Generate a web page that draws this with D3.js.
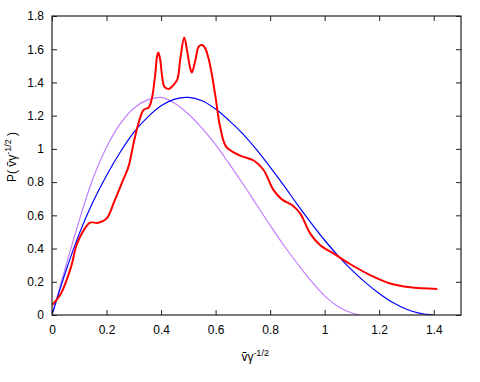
<!DOCTYPE html>
<html>
<head>
<meta charset="utf-8">
<script src="https://cdn.jsdelivr.net/npm/d3@7"></script>
<style>
  body { margin: 0; background: #fff; }
  text { font-family: "Liberation Sans", Arial, sans-serif; fill: #000; }
</style>
</head>
<body>
<div id="chart"></div>
<script>
var width = 480
var height = 382

// tick values
var xTicks = [0, 0.2, 0.4, 0.6, 0.8, 1, 1.2, 1.4]
var yTicks = [0, 0.2, 0.4, 0.6, 0.8, 1, 1.2, 1.4, 1.6, 1.8]

// red curve (measured distribution)
var redX = [0, 0.03, 0.07, 0.09, 0.12, 0.14, 0.17, 0.2, 0.23, 0.26, 0.28, 0.3, 0.32, 0.336, 0.355, 0.367,
  0.379, 0.385, 0.39, 0.397, 0.404, 0.412, 0.428, 0.44, 0.459, 0.47, 0.485, 0.497, 0.507, 0.513,
  0.526, 0.538, 0.55, 0.562, 0.574, 0.585, 0.6, 0.617, 0.64, 0.69, 0.74, 0.776, 0.812, 0.843,
  0.88, 0.91, 0.947, 0.984, 1.032, 1.09, 1.167, 1.24, 1.313, 1.413]
var redY = [0.06, 0.12, 0.29, 0.42, 0.52, 0.556, 0.555, 0.58, 0.69, 0.81, 0.89, 1.04, 1.17, 1.235, 1.25, 1.31,
  1.455, 1.555, 1.58, 1.535, 1.435, 1.375, 1.36, 1.375, 1.415, 1.535, 1.67, 1.575, 1.485, 1.46,
  1.535, 1.615, 1.625, 1.605, 1.545, 1.46, 1.31, 1.13, 1.01, 0.96, 0.93, 0.873, 0.753, 0.696,
  0.662, 0.612, 0.49, 0.42, 0.371, 0.31, 0.24, 0.19, 0.167, 0.157]

// blue curve
var blueX = [0, 0.05, 0.1, 0.15, 0.2, 0.25, 0.3, 0.35, 0.4, 0.45, 0.5, 0.55, 0.6, 0.65, 0.7, 0.75,
  0.8, 0.85, 0.9, 0.95, 1, 1.05, 1.1, 1.15, 1.2, 1.25, 1.3, 1.35, 1.4]
var blueY = [0, 0.26, 0.49, 0.68, 0.84, 0.98, 1.1, 1.19, 1.26, 1.3, 1.31, 1.29, 1.24, 1.17, 1.09, 0.995,
  0.89, 0.78, 0.665, 0.555, 0.45, 0.355, 0.27, 0.195, 0.13, 0.075, 0.035, 0.01, 0]

// purple curve
var purpleX = [0, 0.05, 0.1, 0.15, 0.2, 0.25, 0.3, 0.35, 0.4, 0.45, 0.5, 0.55, 0.6, 0.65, 0.7,
  0.75, 0.8, 0.85, 0.9, 0.95, 1, 1.05, 1.1, 1.13]
var purpleY = [0, 0.29, 0.57, 0.82, 1.01, 1.15, 1.245, 1.295, 1.31, 1.275, 1.21, 1.125, 1.025, 0.91, 0.79,
  0.665, 0.54, 0.42, 0.31, 0.205, 0.115, 0.05, 0.012, 0]

var margin = {top: 16, right: 19, bottom: 67, left: 52}
var w = width - margin.left - margin.right,
    h = height - margin.top - margin.bottom

var svg = d3.select("#chart")
    .append("svg")
    .attr("width", width)
    .attr("height", height)

var g = svg.append("g")
    .attr("transform", "translate(" + margin.left + "," + margin.top + ")")

var x = d3.scaleLinear().domain([0, 1.5]).range([0, w])
var y = d3.scaleLinear().domain([0, 1.8]).range([h, 0])

var line = d3.line()
    .x(function(d) { return x(d[0]); })
    .y(function(d) { return y(d[1]); })
    .curve(d3.curveCatmullRom.alpha(0.5))

function zip(a, b) { return a.map(function(v, i) { return [v, b[i]]; }); }

g.append("defs").append("clipPath")
    .attr("id", "clip")
    .append("rect")
    .attr("width", w)
    .attr("height", h)

var plot = g.append("g").attr("clip-path", "url(#clip)")

plot.append("path")
    .attr("d", line(zip(purpleX, purpleY)))
    .attr("fill", "none")
    .attr("stroke", "#c080ff")
    .attr("stroke-width", 1.2)

plot.append("path")
    .attr("d", line(zip(blueX, blueY)))
    .attr("fill", "none")
    .attr("stroke", "#0000ff")
    .attr("stroke-width", 1.2)

plot.append("path")
    .attr("d", line(zip(redX, redY)))
    .attr("fill", "none")
    .attr("stroke", "#ff0000")
    .attr("stroke-width", 2)

// axes, ticks pointing inward, mirrored on top and right
var xAxis = d3.axisBottom(x).tickValues(xTicks).tickSize(-5).tickPadding(10)
    .tickFormat(function(d) { return d3.format("")(+d.toFixed(1)); })
var yAxis = d3.axisLeft(y).tickValues(yTicks).tickSize(-5).tickPadding(8)
    .tickFormat(function(d) { return d3.format("")(+d.toFixed(1)); })

g.append("g")
    .attr("transform", "translate(0," + h + ")")
    .call(xAxis)
g.append("g").call(yAxis)

g.append("g")
    .call(d3.axisTop(x).tickValues(xTicks).tickSize(-5).tickFormat(""))
g.append("g")
    .attr("transform", "translate(" + w + ",0)")
    .call(d3.axisRight(y).tickValues(yTicks).tickSize(-5).tickFormat(""))

g.selectAll(".domain").remove()
g.selectAll(".tick line").attr("stroke", "#222")
g.selectAll(".tick text")
    .style("font", "12px 'Liberation Sans', Arial, sans-serif")
    .attr("fill", "#000")

g.append("rect")
    .attr("width", w)
    .attr("height", h)
    .attr("fill", "none")
    .attr("stroke", "#222")
    .attr("stroke-width", 1.2)

// axis labels
var xl = svg.append("text")
    .attr("x", margin.left + x(0.745))
    .attr("y", 361)
    .attr("text-anchor", "middle")
    .style("font-size", "12px")
xl.append("tspan").text("\u1E7D\u03B3")
xl.append("tspan").attr("dy", -5).style("font-size", "9px").text("-1/2")

var yl = svg.append("text")
    .attr("transform", "translate(16," + 157 + ") rotate(-90)")
    .attr("text-anchor", "middle")
    .style("font-size", "12px")
yl.append("tspan").text("P(  \u1E7D\u03B3")
yl.append("tspan").attr("dy", -5).style("font-size", "9px").text("-1/2")
yl.append("tspan").attr("dy", 5).text("  )")
</script>
</body>
</html>
